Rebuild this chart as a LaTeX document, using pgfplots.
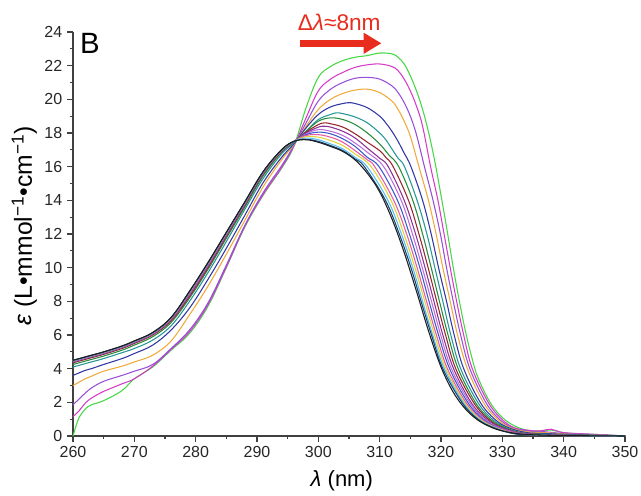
\documentclass[border=0pt]{standalone}
\usepackage{fontspec}
\setmainfont{Liberation Sans}
\usepackage{pgfplots}
\pgfplotsset{compat=1.18}
\usetikzlibrary{arrows.meta}

\definecolor{cgreen}{RGB}{70,215,70}
\definecolor{cmagenta}{RGB}{215,60,200}
\definecolor{cviolet}{RGB}{150,80,215}
\definecolor{corange}{RGB}{240,170,60}
\definecolor{cnavy}{RGB}{50,55,165}
\definecolor{cteal}{RGB}{40,150,150}
\definecolor{cdgreen}{RGB}{40,140,60}
\definecolor{cwine}{RGB}{150,40,45}
\definecolor{cpurple}{RGB}{140,50,150}
\definecolor{clilac}{RGB}{190,110,220}
\definecolor{cblue}{RGB}{60,90,200}
\definecolor{cpink}{RGB}{230,90,160}
\definecolor{cyellow}{RGB}{225,210,60}
\definecolor{clblue}{RGB}{90,190,240}
\definecolor{cdblue}{RGB}{20,70,120}
\definecolor{cblack}{RGB}{30,30,30}
\definecolor{arrred}{RGB}{232,45,30}

\begin{document}
\begin{tikzpicture}
\begin{axis}[
  scale only axis, width=414pt, height=303pt,
  xmin=260, xmax=350, ymin=0, ymax=24,
  axis x line=bottom, axis y line=left,
  axis line style={-, line width=0.8pt, black!75},
  xtick={260,270,...,350}, ytick={0,2,...,24},
  minor x tick num=1, minor y tick num=1,
  tick align=outside, major tick length=4.5pt, minor tick length=2.5pt,
  tick style={black!75, line width=0.8pt},
  /pgf/number format/assume math mode=true,
  tick label style={font=\fontsize{12}{14}\selectfont, text=black!85},
  xlabel={\textit{λ} (nm)},
  ylabel={\textit{ε} (L•mmol\textsuperscript{−1}•cm\textsuperscript{−1})},
  xlabel style={font=\fontsize{16.5}{19}\selectfont, at={(axis description cs:0.487,-0.112)}, anchor=center},
  ylabel style={font=\fontsize{18.5}{22}\selectfont, at={(axis description cs:-0.088,0.52)}, anchor=center},
  clip=false,
  every axis plot/.append style={line width=0.8pt, smooth, tension=0.6},
]
% green
\addplot[cgreen] coordinates {(260,0)(260.5,0.6)(261,1.1)(262,1.6)(263,1.85)(265,2.1)(268,2.7)(270,3.4)(273,4.1)(276,5.1)(279,6.1)(282,7.7)(285,10.0)(288,12.4)(291,14.3)(294,15.9)(296,17.2)(298,19.5)(300,21.3)(302,21.95)(304,22.3)(306,22.5)(308,22.6)(310,22.75)(312,22.7)(313,22.5)(314,22.1)(315,21.4)(316,20.5)(317,19.4)(318,18.0)(319,16.3)(320,14.3)(321,12.2)(322,10.0)(323,8.0)(324,6.2)(325,4.7)(326,3.5)(328,2.0)(330,1.1)(332,0.6)(334,0.35)(336,0.3)(338,0.35)(340,0.2)(343,0.12)(346,0.08)(350,0)};
% magenta
\addplot[cmagenta] coordinates {(260,1.15)(261,1.5)(262,1.95)(263,2.25)(265,2.65)(268,3.1)(270,3.4)(273,4.15)(276,5.15)(279,6.2)(282,7.8)(285,10.05)(288,12.45)(291,14.35)(294,15.95)(296,17.22)(298,18.9)(300,20.5)(302,21.2)(304,21.6)(306,21.9)(308,22.05)(310,22.1)(312,21.95)(313,21.7)(314,21.2)(315,20.5)(316,19.6)(317,18.4)(318.3,16)(319.5,14)(320.5,12)(321.5,10)(322.55,8)(323.7,6)(325.1,4)(327.7,2)(329.9,1)(331.9,0.5)(334,0.35)(336,0.3)(338,0.4)(340,0.2)(345,0.1)(350,0)};
% violet
\addplot[cviolet] coordinates {(260,1.85)(261,2.2)(262,2.55)(263,2.85)(265,3.25)(268,3.6)(270,3.85)(273,4.25)(276,5.2)(279,6.3)(282,7.9)(285,10.15)(288,12.5)(291,14.45)(294,16.05)(296,17.25)(298,18.6)(300,19.9)(302,20.6)(304,21.0)(306,21.25)(308,21.3)(310,21.2)(312,20.8)(313,20.4)(314,19.8)(315,19.0)(316,17.9)(317.3,16)(318.7,14)(319.9,12)(320.9,10)(322,8)(323.2,6)(324.7,4)(327.3,2)(329.5,1)(331.6,0.5)(334,0.3)(337,0.25)(340,0.15)(345,0.08)(350,0)};
% orange
\addplot[corange] coordinates {(260,3.0)(261,3.2)(262,3.4)(263,3.55)(265,3.85)(268,4.15)(270,4.4)(273,4.8)(276,5.65)(279,7.2)(282,8.9)(285,10.8)(288,12.8)(291,14.8)(294,16.4)(296,17.3)(298,18.4)(300,19.4)(302,20.0)(304,20.35)(306,20.55)(308,20.6)(310,20.4)(312,19.9)(313,19.4)(314,18.7)(315,17.8)(316.4,16)(317.95,14)(319.2,12)(320.3,10)(321.5,8)(322.7,6)(324.3,4)(326.9,2)(329.2,1)(331.3,0.5)(334,0.25)(337,0.2)(340,0.12)(345,0.06)(350,0)};
% navy
\addplot[cnavy] coordinates {(260,3.6)(261,3.75)(262,3.9)(263,4.0)(265,4.25)(268,4.6)(270,4.9)(273,5.4)(276,6.3)(279,7.6)(282,9.3)(285,11.15)(288,13.1)(291,15.05)(294,16.55)(296,17.35)(298,18.3)(300,19.1)(302,19.55)(304,19.75)(305,19.8)(306,19.75)(308,19.5)(310,19.0)(311,18.6)(312,18.1)(313,17.5)(314,16.8)(315.1,16)(317,14)(318.4,12)(319.6,10)(320.9,8)(322.15,6)(323.7,4)(326.4,2)(328.75,1)(330.95,0.5)(334,0.2)(337,0.15)(340,0.1)(345,0.05)(350,0)};
% teal
\addplot[cteal] coordinates {(260,4.1)(261,4.2)(262,4.3)(263,4.4)(265,4.6)(268,4.95)(270,5.2)(273,5.7)(276,6.55)(279,8.0)(282,9.7)(285,11.55)(288,13.45)(291,15.3)(294,16.75)(296,17.4)(298,18.1)(300,18.8)(302,19.1)(303,19.2)(304,19.15)(306,18.95)(308,18.6)(310,18.0)(311,17.6)(312,17.05)(313,16.5)(314.05,16)(316.1,14)(317.7,12)(319,10)(320.3,8)(321.6,6)(323.2,4)(326,2)(328.35,1)(330.6,0.5)(333,0.2)(336,0.12)(340,0.07)(345,0.03)(350,0)};
% dark green
\addplot[cdgreen] coordinates {(260,4.25)(261,4.35)(262,4.45)(263,4.55)(265,4.75)(268,5.1)(270,5.4)(273,5.9)(276,6.75)(279,8.2)(282,9.9)(285,11.75)(288,13.6)(291,15.45)(294,16.85)(296,17.45)(298,18.1)(300,18.7)(302,18.9)(304,18.8)(306,18.5)(308,18.0)(310,17.35)(311.5,16.7)(313.1,16)(315.4,14)(317,12)(318.4,10)(319.75,8)(321.15,6)(322.8,4)(325.6,2)(328,1)(330.3,0.5)(333,0.2)(336,0.1)(340,0.06)(345,0.03)(350,0)};
% wine
\addplot[cwine] coordinates {(260,4.35)(261,4.45)(262,4.55)(263,4.65)(265,4.85)(268,5.2)(270,5.5)(273,6.0)(276,6.85)(279,8.3)(282,10.0)(285,11.85)(288,13.7)(291,15.55)(294,16.9)(296,17.47)(298,18.05)(300,18.5)(301,18.6)(302,18.55)(304,18.35)(306,17.95)(308,17.45)(310,16.95)(311,16.55)(312.2,16)(314.7,14)(316.4,12)(317.9,10)(319.3,8)(320.75,6)(322.4,4)(325.3,2)(327.7,1)(330,0.5)(333,0.18)(336,0.1)(340,0.05)(345,0.02)(350,0)};
% purple
\addplot[cpurple] coordinates {(260,4.4)(261,4.5)(262,4.6)(263,4.7)(265,4.9)(268,5.25)(270,5.55)(273,6.05)(276,6.92)(279,8.4)(282,10.1)(285,11.93)(288,13.76)(291,15.6)(294,16.93)(296,17.48)(298,18.0)(300,18.35)(301,18.4)(302,18.35)(304,18.1)(306,17.7)(308,17.1)(310,16.5)(311.4,16)(314,14)(315.85,12)(317.4,10)(318.85,8)(320.3,6)(322.05,4)(324.9,2)(327.4,1)(329.8,0.5)(333,0.17)(336,0.09)(340,0.05)(345,0.02)(350,0)};
% lilac
\addplot[clilac] coordinates {(260,4.42)(261,4.52)(262,4.62)(263,4.72)(265,4.92)(268,5.27)(270,5.57)(273,6.07)(276,6.96)(279,8.45)(282,10.15)(285,11.97)(288,13.8)(291,15.63)(294,16.95)(296,17.49)(298,17.95)(300,18.2)(302,18.1)(304,17.85)(306,17.4)(308,16.85)(310.65,16)(313.5,14)(315.35,12)(316.95,10)(318.45,8)(319.95,6)(321.7,4)(324.65,2)(327.1,1)(329.55,0.5)(333,0.15)(336,0.08)(340,0.04)(345,0.02)(350,0)};
% blue
\addplot[cblue] coordinates {(260,4.44)(261,4.54)(262,4.64)(263,4.74)(265,4.94)(268,5.29)(270,5.59)(273,6.09)(276,6.98)(279,8.5)(282,10.2)(285,12.0)(288,13.83)(291,15.65)(294,16.96)(296,17.5)(298,17.9)(300,18.05)(302,17.95)(304,17.65)(306,17.2)(308,16.55)(309.9,16)(312.9,14)(314.85,12)(316.55,10)(318.05,8)(319.6,6)(321.4,4)(324.35,2)(326.85,1)(329.3,0.5)(333,0.14)(336,0.07)(340,0.04)(345,0.01)(350,0)};
% pink
\addplot[cpink] coordinates {(260,4.46)(261,4.56)(262,4.66)(263,4.76)(265,4.96)(268,5.31)(270,5.61)(273,6.11)(276,7.0)(279,8.53)(282,10.23)(285,12.03)(288,13.85)(291,15.67)(294,16.97)(296,17.5)(298,17.85)(300,17.9)(302,17.75)(304,17.45)(306,16.95)(308,16.4)(309.2,16)(312.3,14)(314.4,12)(316.1,10)(317.65,8)(319.25,6)(321.05,4)(324.05,2)(326.6,1)(329.1,0.5)(333,0.13)(336,0.07)(340,0.03)(345,0.01)(350,0)};
% yellow
\addplot[cyellow] coordinates {(260,4.47)(261,4.57)(262,4.67)(263,4.77)(265,4.97)(268,5.32)(270,5.62)(273,6.12)(276,7.02)(279,8.56)(282,10.26)(285,12.06)(288,13.87)(291,15.68)(294,16.98)(296,17.5)(298,17.78)(300,17.75)(302,17.55)(304,17.25)(306,16.75)(308.6,16)(311.85,14)(313.95,12)(315.75,10)(317.35,8)(318.95,6)(320.8,4)(323.8,2)(326.35,1)(328.9,0.5)(332,0.15)(336,0.06)(340,0.03)(345,0.01)(350,0)};
% light blue
\addplot[clblue] coordinates {(260,4.48)(261,4.58)(262,4.68)(263,4.78)(265,4.98)(268,5.33)(270,5.63)(273,6.13)(276,7.03)(279,8.58)(282,10.28)(285,12.08)(288,13.88)(291,15.69)(294,16.99)(296,17.5)(298,17.7)(300,17.6)(302,17.35)(304,17.05)(306,16.55)(307.95,16)(311.35,14)(313.55,12)(315.4,10)(317,8)(318.65,6)(320.55,4)(323.6,2)(326.15,1)(328.7,0.5)(332,0.14)(336,0.06)(340,0.03)(345,0.01)(350,0)};
% dark blue
\addplot[cdblue] coordinates {(260,4.49)(261,4.59)(262,4.69)(263,4.79)(265,4.99)(268,5.34)(270,5.64)(273,6.14)(276,7.04)(279,8.59)(282,10.29)(285,12.09)(288,13.89)(291,15.7)(294,17.0)(296,17.5)(298,17.62)(300,17.5)(302,17.25)(304,16.95)(306,16.45)(307.5,16)(310.95,14)(313.2,12)(315.1,10)(316.75,8)(318.45,6)(320.3,4)(323.4,2)(326,1)(328.55,0.5)(332,0.13)(336,0.06)(340,0.03)(345,0.01)(350,0)};
% black
\addplot[cblack] coordinates {(260,4.5)(261,4.6)(262,4.7)(263,4.8)(265,5.0)(268,5.35)(270,5.65)(273,6.15)(276,7.05)(279,8.6)(282,10.3)(285,12.1)(288,13.9)(291,15.7)(294,17.0)(296,17.5)(298,17.6)(300,17.45)(302,17.2)(304,16.9)(306,16.4)(308,15.6)(310,14.5)(312,12.9)(314,10.9)(316,8.6)(318,6.2)(320,4.1)(322,2.6)(324,1.6)(326,0.95)(328,0.55)(330,0.3)(333,0.12)(336,0.06)(340,0.03)(345,0.01)(350,0)};

\node[anchor=base west, font=\fontsize{22}{26}\selectfont] at (axis cs:260.4,22.75) {B};
\draw[arrred, line width=5pt, -{Triangle[length=13.5pt, width=15pt]}] (axis cs:297,23.33) -- (axis cs:310.3,23.33);
\node[anchor=base, text=arrred, font=\fontsize{17}{20}\selectfont, inner sep=0pt] at (axis cs:303.4,24.1) {Δ\textit{λ}≈8nm};
\end{axis}
\pgfresetboundingbox
\path[use as bounding box] (-54.75pt,-44.25pt) rectangle (426pt,327pt);
\end{tikzpicture}
\end{document}
